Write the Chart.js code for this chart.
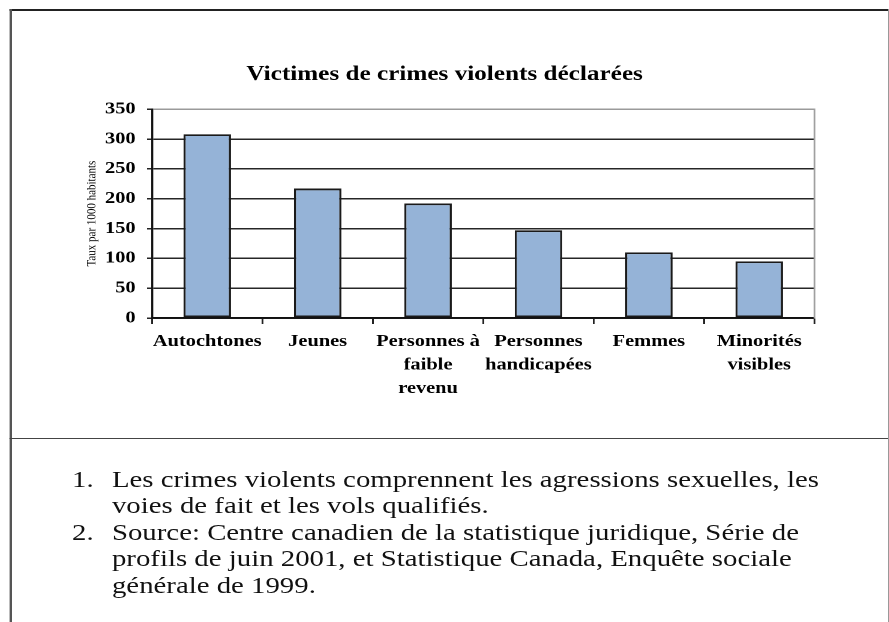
<!DOCTYPE html>
<html>
<head>
<meta charset="utf-8">
<script src="https://cdn.jsdelivr.net/npm/chart.js@4.4.1/dist/chart.umd.min.js"></script>
<style>
  html, body { margin: 0; padding: 0; background: #fff; }
  body { width: 889px; height: 622px; overflow: hidden; position: relative; }
  #stage { position: absolute; left: 0; top: 0; width: 741px; height: 622px; transform: scaleX(1.2); transform-origin: 0 0; }
  #c { position: absolute; left: 0; top: 0; }
  .ln { position: absolute; background: #222; }
  .note { position: absolute; font-family: "Liberation Serif", "Times New Roman", serif; font-size: 24px; line-height: 26.4px; color: #111; white-space: nowrap; }
</style>
</head>
<body>
<div id="stage">
  <canvas id="c" width="741" height="438" style="width:741px;height:438px"></canvas>
  <div class="ln" style="left:8.3px; top:9px; width:732px; height:1.5px; background:#222;"></div>
  <div class="ln" style="left:8.3px; top:9px; width:1.3px; height:613px; background:#555;"></div>
  <div class="ln" style="left:739.5px; top:9px; width:1.2px; height:613px; background:#999;"></div>
  <div class="ln" style="left:8.3px; top:437.5px; width:732px; height:1.5px; background:#444;"></div>
  <div class="note" style="left:60px; top:466px;">1.</div>
  <div class="note" style="left:93.3px; top:466px;">Les crimes violents comprennent les agressions sexuelles, les<br>voies de fait et les vols qualifiés.</div>
  <div class="note" style="left:60px; top:518.8px;">2.</div>
  <div class="note" style="left:93.3px; top:518.8px;">Source: Centre canadien de la statistique juridique, Série de<br>profils de juin 2001, et Statistique Canada, Enquête sociale<br>générale de 1999.</div>
</div>
<script>
const chartTitle = 'Victimes de crimes violents déclarées';
const yAxisTitle = 'Taux par 1000 habitants';
const categories = [
  ['Autochtones'],
  ['Jeunes'],
  ['Personnes à', 'faible', 'revenu'],
  ['Personnes', 'handicapées'],
  ['Femmes'],
  ['Minorités', 'visibles']
];
const values = [308, 217, 192, 147, 110, 95];
const yMin = 0;
const yMax = 350;
const yStep = 50;

const serif = 'Liberation Serif';

new Chart(document.getElementById('c'), {
  type: 'bar',
  data: {
    labels: categories,
    datasets: [{
      data: values,
      backgroundColor: '#95b3d7',
      borderColor: '#1a1a1a',
      borderWidth: 1.8,
      borderSkipped: false,
      categoryPercentage: 1,
      barPercentage: 0.43
    }]
  },
  options: {
    responsive: false,
    animation: false,
    devicePixelRatio: 2,
    layout: { padding: 0 },
    plugins: {
      legend: { display: false },
      tooltip: { enabled: false },
      title: {
        display: true,
        text: chartTitle,
        color: '#000',
        font: { family: serif, size: 21, weight: 'bold', lineHeight: 1.2 },
        padding: { top: 62, bottom: 22 }
      }
    },
    scales: {
      x: {
        grid: { display: true, drawOnChartArea: false, offset: true, tickLength: 6, color: '#222', lineWidth: 1.5 },
        border: { display: true, color: '#111', width: 1.8 },
        ticks: { color: '#000', font: { family: serif, size: 17, weight: 'bold', lineHeight: 1.38 }, padding: 6, maxRotation: 0, minRotation: 0, autoSkip: false },
        afterFit(s) { s.height = 120; }
      },
      y: {
        min: yMin, max: yMax,
        ticks: { stepSize: yStep, color: '#000', font: { family: serif, size: 17, weight: 'bold' }, padding: 9.5 },
        grid: {
          color: (c) => (c.tick && c.tick.value === yMax) ? '#9a9a9a' : '#262626',
          tickColor: '#222',
          lineWidth: 1.5,
          tickLength: 4.2
        },
        border: { display: true, color: '#111', width: 1.7 },
        title: { display: true, text: yAxisTitle, color: '#000', font: { family: serif, size: 11 }, padding: { top: 70, bottom: 0 } },
        afterFit(s) { s.width = 126.7; }
      },
      y2: {
        position: 'right',
        min: yMin, max: yMax,
        grid: { display: false },
        ticks: { display: false },
        border: { display: true, color: '#a0a0a0', width: 1.5 },
        afterFit(s) { s.width = 62.3; }
      }
    }
  }
});
</script>
</body>
</html>
